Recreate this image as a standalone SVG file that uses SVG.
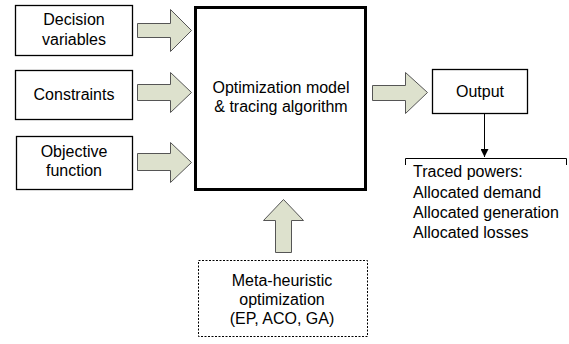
<svg xmlns="http://www.w3.org/2000/svg" width="569" height="344" viewBox="0 0 569 344">
<defs>
<style>
text{font-family:"Liberation Sans",Arial,sans-serif;font-size:16px;fill:#000}
.c{text-anchor:middle}
.box{fill:#fff;stroke:#000;stroke-width:1.3}
.main{fill:#fff;stroke:#000;stroke-width:3}
.dot{fill:#fff;stroke:#000;stroke-width:1;stroke-dasharray:2 1.5}
.blk{fill:#dde1cd;stroke:#555;stroke-width:1}
.ln{fill:none;stroke:#000;stroke-width:1}
</style>
<marker id="ah" viewBox="0 0 10 10" refX="10" refY="5" markerWidth="8" markerHeight="8" markerUnits="userSpaceOnUse" orient="auto">
<path d="M0,0L10,5L0,10z" fill="#000"/>
</marker>
</defs>
<rect width="569" height="344" fill="#fff"/>
<g id="decision"><rect class="box" x="15.5" y="5.5" width="117" height="50"/><text class="c" x="74" y="25">Decision</text><text class="c" x="74" y="45">variables</text></g>
<g id="constraints"><rect class="box" x="15.5" y="70.5" width="117" height="49"/><text class="c" x="74" y="100">Constraints</text></g>
<g id="objective"><rect class="box" x="16.5" y="136.5" width="116" height="53"/><text class="c" x="74" y="157">Objective</text><text class="c" x="74" y="176">function</text></g>
<g id="model"><rect class="main" x="195.5" y="7.5" width="170" height="182"/><text class="c" x="281" y="93">Optimization model</text><text class="c" x="281" y="112">&amp; tracing algorithm</text></g>
<g id="output"><rect class="box" x="432.5" y="69.5" width="95" height="44"/><text class="c" x="480" y="97">Output</text></g>
<g id="meta"><rect class="dot" x="198.5" y="260.5" width="169" height="76"/><text class="c" x="282" y="286">Meta-heuristic</text><text class="c" x="282" y="305">optimization</text><text class="c" x="282" y="324">(EP, ACO, GA)</text></g>
<g id="traced"><path class="ln" d="M405.5,165V158.5H566.5V165"/><text x="413" y="177">Traced powers:</text><text x="413" y="198">Allocated demand</text><text x="413" y="218">Allocated generation</text><text x="413" y="238">Allocated losses</text></g>
<g id="connectors">
<path class="blk" d="M137.5,23.5H170.5V9.5L191.5,30.5L170.5,51.5V37.5H137.5z"/>
<path class="blk" d="M137.5,84.5H170.5V72.5L191.5,92.5L170.5,112.5V100.5H137.5z"/>
<path class="blk" d="M137.5,153.5H170.5V142.5L191.5,162.5L170.5,182.5V170.5H137.5z"/>
<path class="blk" d="M372.5,85.5H405.5V72.5L427.5,92.5L405.5,113.5V100.5H372.5z"/>
<path class="blk" d="M275.5,252.5V220.5H263.5L283.5,199.5L303.5,220.5H291.5V252.5z"/>
<line class="ln" x1="484.5" y1="114" x2="484.5" y2="157" marker-end="url(#ah)"/>
</g>
</svg>
